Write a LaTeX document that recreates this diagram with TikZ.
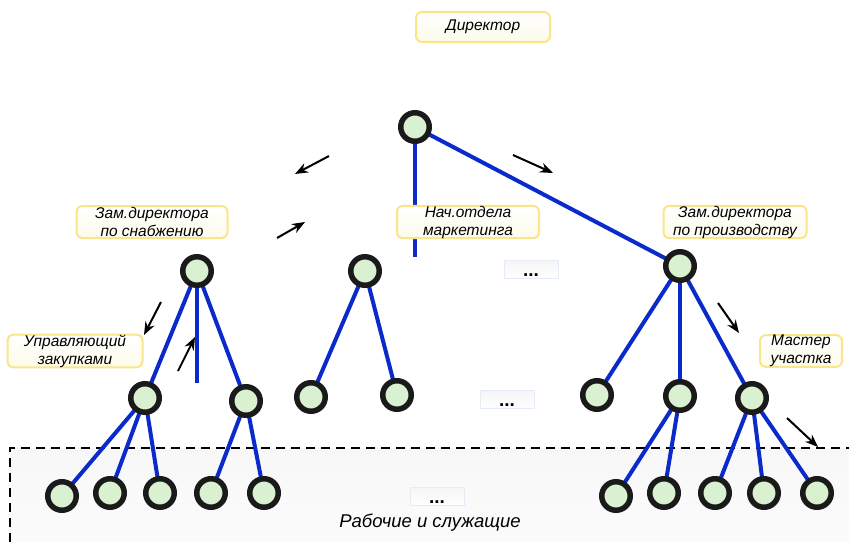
\documentclass[tikz,border=0pt]{standalone}
\usepackage{fontspec}
\setmainfont{Liberation Sans}
\usetikzlibrary{arrows.meta,shapes.geometric}
\pgfdeclarelayer{bg}
\pgfdeclarelayer{lines}
\pgfsetlayers{bg,lines,main}
\definecolor{nodefill}{HTML}{D9F1D1}
\definecolor{nodeborder}{HTML}{1A1A1A}
\definecolor{linkblue}{HTML}{0A2ACB}
\definecolor{labborder}{HTML}{F9E58A}
\definecolor{labfill}{HTML}{FDFBEA}
\definecolor{dotborder}{HTML}{E4ECFA}
\tikzset{
  person/.style={circle,draw=nodeborder,fill=nodefill,line width=5.5pt,minimum size=28.5pt,inner sep=0pt},
  link/.style={draw=linkblue,line width=4pt},
  lab/.style={rounded corners=6pt,draw=labborder,line width=2pt,top color=white,bottom color=labfill,
    font=\itshape\fontsize{15.5}{18}\selectfont,align=center,inner sep=0pt},
  dotbox/.style={draw=dotborder,line width=1pt,top color=black!4,bottom color=white,minimum width=54pt,minimum height=18pt,inner sep=0pt},
  dots/.style={font=\bfseries\fontsize{19}{19}\selectfont,inner sep=0pt},
  ptr/.style={draw=black,line width=2pt,-{Stealth[length=13pt,width=10pt]}}
}
\begin{document}
\begin{tikzpicture}[x=1pt,y=-1pt]
\useasboundingbox (0,0) rectangle (849,543);
\clip (0,0) rectangle (849,543);
% nodes
\node[person] (r) at (415,127) {};
\node[person] (a1) at (197,271) {};
\node[person] (a2) at (365,271) {};
\node[person] (a3) at (680,266) {};
\node[person] (b1) at (145,398) {};
\node[person] (b2) at (246,401) {};
\node[person] (b3) at (311,397) {};
\node[person] (b4) at (397,395) {};
\node[person] (b5) at (597,395) {};
\node[person] (b6) at (680,396) {};
\node[person] (b7) at (752,398) {};
\node[person] (c1) at (62,496) {};
\node[person] (c2) at (110,493) {};
\node[person] (c3) at (160,493) {};
\node[person] (c4) at (211,493) {};
\node[person] (c5) at (264,493) {};
\node[person] (c6) at (616,496) {};
\node[person] (c7) at (664,493) {};
\node[person] (c8) at (715,493) {};
\node[person] (c9) at (764,493) {};
\node[person] (c10) at (817,493) {};
\coordinate (rd) at (415,257);
\coordinate (a1d) at (197,383);
% background region
\begin{pgfonlayer}{bg}
\fill[top color=black!3,bottom color=black!1] (10,448) rectangle (870,570);
\draw[dashed,dash pattern=on 9pt off 6pt,line width=1.4pt] (870,448) -- (10,448) -- (10,570);
\end{pgfonlayer}
% links
\begin{pgfonlayer}{lines}
\draw[link] (r.center) -- (rd);
\draw[link] (r.center) -- (a3.center);
\draw[link] (a1.center) -- (a1d);
\draw[link] (a1.center) -- (b1.center);
\draw[link] (a1.center) -- (b2.center);
\draw[link] (a2.center) -- (b3.center);
\draw[link] (a2.center) -- (b4.center);
\draw[link] (a3.center) -- (b5.center);
\draw[link] (a3.center) -- (b6.center);
\draw[link] (a3.center) -- (b7.center);
\draw[link] (b1.center) -- (c1.center);
\draw[link] (b1.center) -- (c2.center);
\draw[link] (b1.center) -- (c3.center);
\draw[link] (b2.center) -- (c4.center);
\draw[link] (b2.center) -- (c5.center);
\draw[link] (b6.center) -- (c6.center);
\draw[link] (b6.center) -- (c7.center);
\draw[link] (b7.center) -- (c8.center);
\draw[link] (b7.center) -- (c9.center);
\draw[link] (b7.center) -- (c10.center);
\end{pgfonlayer}
% labels
\node[lab,minimum width=134pt,minimum height=30pt] (l0) at (483,27) {Директор};
\node[lab,minimum width=151pt,minimum height=32pt] (l1) at (152,222) {Зам.директора\\по снабжению};
\node[lab,minimum width=142pt,minimum height=32pt] (l2) at (468,222) {Нач.отдела\\маркетинга};
\node[lab,minimum width=143pt,minimum height=32pt] (l3) at (735,222) {Зам.директора\\по производству};
\node[lab,minimum width=135pt,minimum height=31pt] (l4) at (75,351) {Управляющий\\закупками};
\node[lab,minimum width=82pt,minimum height=31pt] (l5) at (801,351) {Мастер\\участка};
% dots boxes
\node[dotbox] (d1) at (531,269) {};
\node[dots,anchor=south] at ([yshift=2pt]d1.south) {...};
\node[dotbox] (d2) at (507,399) {};
\node[dots,anchor=south] at ([yshift=2pt]d2.south) {...};
\node[dotbox] (d3) at (437,496) {};
\node[dots,anchor=south] at ([yshift=2pt]d3.south) {...};
\node[font=\itshape\fontsize{18.5}{20}\selectfont] (w) at (430,523) {Рабочие и служащие};
% arrows
\coordinate (p1s) at (329,156); \coordinate (p1e) at (295,174);
\coordinate (p2s) at (277,238); \coordinate (p2e) at (305,222);
\coordinate (p3s) at (513,155); \coordinate (p3e) at (553,173);
\coordinate (p4s) at (161,302); \coordinate (p4e) at (144,335);
\coordinate (p5s) at (178,371); \coordinate (p5e) at (195,337);
\coordinate (p6s) at (718,303); \coordinate (p6e) at (739,333);
\coordinate (p7s) at (787,418); \coordinate (p7e) at (818,447);
\draw[ptr] (p1s) -- (p1e);
\draw[ptr] (p2s) -- (p2e);
\draw[ptr] (p3s) -- (p3e);
\draw[ptr] (p4s) -- (p4e);
\draw[ptr] (p5s) -- (p5e);
\draw[ptr] (p6s) -- (p6e);
\draw[ptr] (p7s) -- (p7e);
\end{tikzpicture}
\end{document}
